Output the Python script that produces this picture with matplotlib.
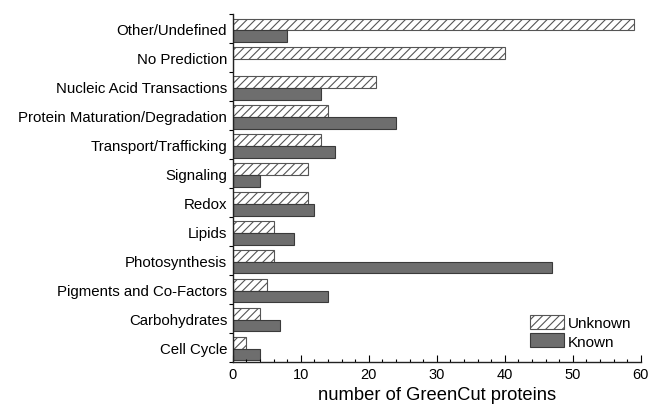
import matplotlib
matplotlib.use("Agg")
import matplotlib.pyplot as plt
import numpy as np
from matplotlib.ticker import MultipleLocator, FixedLocator

plt.rcParams['font.family'] = ['Liberation Sans', 'DejaVu Sans']
plt.rcParams['hatch.color'] = '#555555'
plt.rcParams['hatch.linewidth'] = 0.8

categories = ["Other/Undefined", "No Prediction", "Nucleic Acid Transactions",
              "Protein Maturation/Degradation", "Transport/Trafficking", "Signaling",
              "Redox", "Lipids", "Photosynthesis", "Pigments and Co-Factors",
              "Carbohydrates", "Cell Cycle"]
unknown = [59, 40, 21, 14, 13, 11, 11, 6, 6, 5, 4, 2]
known = [8, 0, 13, 24, 15, 4, 12, 9, 47, 14, 7, 4]
xticks = [0, 10, 20, 30, 40, 50, 60]

fig = plt.figure(figsize=(6.52, 4.10), dpi=100)
ax = fig.add_axes([0.357, 0.115, 0.626, 0.848])

y = np.arange(len(categories))
h = 0.4
ax.barh(y - h / 2 + 0.05, unknown, height=h, color='white', edgecolor='#555555',
        hatch='////', linewidth=0.8, label='Unknown')
ax.barh(y + h / 2 + 0.05, known, height=h, color='#6e6e6e', edgecolor='#3a3a3a',
        linewidth=0.8, label='Known')

ax.set_ylim(len(categories) - 0.5, -0.5)
ax.set_xlim(0, 60)
ax.set_yticks(y)
ax.set_yticklabels(categories, fontsize=10.8)
ax.tick_params(axis='y', which='major', length=0, pad=4)
ax.yaxis.set_minor_locator(FixedLocator(np.arange(-0.5, len(categories), 1.0)))
ax.tick_params(axis='y', which='minor', length=3, direction='out', width=0.8)

ax.set_xticks(xticks)
ax.xaxis.set_minor_locator(MultipleLocator(2))
ax.tick_params(axis='x', which='major', direction='in', length=5, labelsize=10.5, width=0.8)
ax.tick_params(axis='x', which='minor', direction='in', length=2.5, width=0.8)
ax.set_xlabel("number of GreenCut proteins", fontsize=13.2, labelpad=4)

for s in ['top', 'right']:
    ax.spines[s].set_visible(False)
for s in ['left', 'bottom']:
    ax.spines[s].set_linewidth(1.0)
    ax.spines[s].set_color('#222222')

ax.legend(loc='lower right', bbox_to_anchor=(1.0, 0.012), frameon=False, fontsize=11,
          handlelength=2.2, handleheight=1.0, handletextpad=0.3, labelspacing=0.2,
          borderaxespad=0.2)

fig.savefig("out.png", dpi=100)
